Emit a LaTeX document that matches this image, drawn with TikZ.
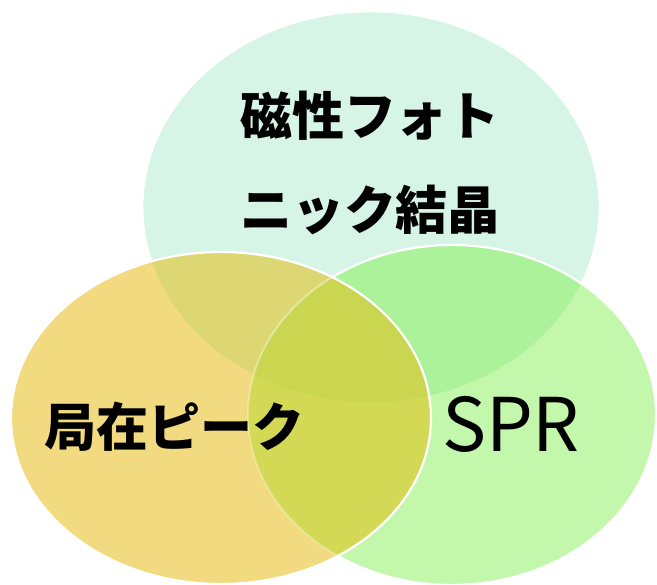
\documentclass[tikz,border=0pt]{standalone}
\usepackage{fontspec}
\newfontfamily\jp{Noto Sans CJK JP}
\definecolor{mint}{HTML}{D6F5E6}
\definecolor{grnR}{HTML}{C3F7AB}
\definecolor{grnRT}{HTML}{ABF29A}
\definecolor{orgL}{HTML}{F2DA80}
\definecolor{orgLT}{HTML}{DCD673}
\definecolor{orgLR}{HTML}{D3D955}
\definecolor{allc}{HTML}{CAD64F}
\begin{document}
\begin{tikzpicture}[x=1pt,y=-1pt,
  border/.style={draw=white, line width=2.2pt},
  lbl/.style={font=\jp\bfseries\fontsize{52}{60}\selectfont, inner sep=0pt, text=black}]
\useasboundingbox (0,0) rectangle (657,585);
% top ellipse
\fill[mint] (371,207) ellipse [x radius=228pt, y radius=195pt];
\draw[white, line width=0.8pt] (371,207) ellipse [x radius=228pt, y radius=195pt];
% right ellipse
\fill[grnR] (452,415) ellipse [x radius=204pt, y radius=170pt];
\begin{scope}
  \clip (371,207) ellipse [x radius=228pt, y radius=195pt];
  \fill[grnRT] (452,415) ellipse [x radius=204pt, y radius=170pt];
\end{scope}
\draw[border] (452,415) ellipse [x radius=204pt, y radius=170pt];
% left ellipse
\fill[orgL] (221,418) ellipse [x radius=210pt, y radius=166pt];
\begin{scope}
  \clip (221,418) ellipse [x radius=210pt, y radius=166pt];
  \fill[orgLT] (371,207) ellipse [x radius=228pt, y radius=195pt];
  \fill[orgLR] (452,415) ellipse [x radius=204pt, y radius=170pt];
  \draw[white, opacity=0.3, line width=2pt] (452,415) ellipse [x radius=204pt, y radius=170pt];
  \clip (371,207) ellipse [x radius=228pt, y radius=195pt];
  \fill[allc] (452,415) ellipse [x radius=204pt, y radius=170pt];
  \draw[white, opacity=0.3, line width=2pt] (452,415) ellipse [x radius=204pt, y radius=170pt];
\end{scope}
\draw[border] (221,418) ellipse [x radius=210pt, y radius=166pt];
% labels
\node[lbl] (t1) at (370,116) {磁性フォト};
\node[lbl] (t2) at (370,210) {ニック結晶};
\node[lbl] (t3) at (175,427) {局在ピーク};
\node[font=\jp\fontsize{74}{80}\selectfont, inner sep=0pt, text=black] (t4) at (511,424) {SPR};
\end{tikzpicture}
\end{document}
